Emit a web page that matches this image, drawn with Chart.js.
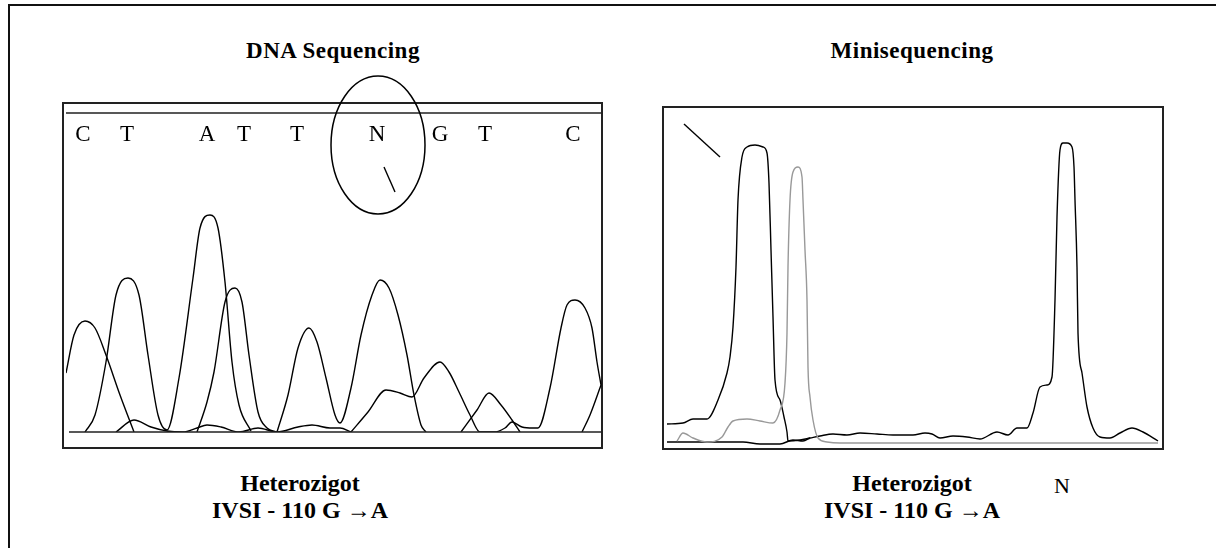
<!DOCTYPE html>
<html>
<head>
<meta charset="utf-8">
<style>
    body { margin: 0; background: #fff; }
    #page { position: relative; width: 1216px; height: 548px; overflow: hidden; }
    .frame { position: absolute; left: 8px; top: 4px; width: 1300px; height: 700px; border: 2px solid #111; }
    .box { position: absolute; border: 2px solid #222; box-sizing: border-box; }
    .txt { position: absolute; font-family: 'Liberation Serif', serif; color: #000; text-align: center; white-space: nowrap; line-height: 1; }
    .b { font-weight: bold; }
    .title { letter-spacing: 0.5px; }
    canvas { position: absolute; left: 0; top: 0; }
</style>
</head>
<body>
<div id='page'>
    <div class='frame'></div>
    <div class='box' style='left:62px; top:102px; width:541px; height:347px'></div>
    <div class='box' style='left:662px; top:106px; width:502px; height:344px'></div>

    <div class='txt b title' style='left:183px; width:300px; top:39px; font-size:23px'>DNA Sequencing</div>
    <div class='txt b title' style='left:762px; width:300px; top:39px; font-size:23px'>Minisequencing</div>
    <div class='txt b' style='left:150px; width:300px; top:471px; font-size:24px'>Heterozigot</div>
    <div class='txt b' style='left:150px; width:300px; top:498px; font-size:24px'>IVSI - 110 G &rarr;A</div>
    <div class='txt b' style='left:762px; width:300px; top:471px; font-size:24px'>Heterozigot</div>
    <div class='txt b' style='left:762px; width:300px; top:498px; font-size:24px'>IVSI - 110 G &rarr;A</div>
    <div class='txt' style='left:1032px; width:60px; top:475px; font-size:22px'>N</div>

    <canvas id='seqChart' width='1216' height='548'></canvas>
    <canvas id='miniChart' width='1216' height='548'></canvas>
</div>
<script src='https://cdn.jsdelivr.net/npm/chart.js'></script>
<script>
    // DNA sequencing: called bases and their scan positions
    const bases = ['C', 'T', 'A', 'T', 'T', 'N', 'G', 'T', 'C'];
    const basePos = [17, 61, 141, 178, 231, 311, 374, 419, 507];

    // chromatogram traces, [scan, signal]
    const traceC1 = [[0, 59], [8, 97], [19, 111], [29, 104], [40, 77], [54, 37], [68, 0]];
    const traceTA = [[19, 0], [29, 17], [40, 70], [50, 137], [62, 154], [73, 137], [82, 77], [92, 17], [101, 2],
        [113, 54], [127, 154], [134, 204], [144, 217], [152, 204], [159, 150], [166, 70], [173, 27], [185, 1]];
    const traceLow = [[50, 0], [68, 12], [85, 5], [101, 1], [117, 0], [131, 4], [141, 7], [155, 5], [173, 0],
        [192, 4], [211, 0], [232, 5], [246, 7], [264, 4], [274, 4], [285, 0]];
    const traceT2 = [[131, 0], [141, 30], [148, 60], [159, 130], [169, 144], [176, 130], [183, 77], [192, 20], [201, 4], [211, 0]];
    const traceTN = [[211, 0], [222, 37], [232, 84], [243, 104], [251, 90], [260, 54], [269, 17], [274, 9],
        [285, 44], [295, 97], [306, 137], [314, 152], [323, 144], [332, 117], [341, 77], [348, 37], [355, 7], [360, 0]];
    const traceG = [[285, 0], [302, 20], [320, 42], [334, 39], [346, 35], [358, 54], [374, 70], [383, 60], [393, 40],
        [404, 17], [414, 0], [428, 0], [439, 4], [446, 10], [456, 5], [467, 4], [472, 4],
        [484, 44], [495, 104], [501, 127], [509, 132], [519, 124], [526, 104], [531, 70], [535, 47]];
    const traceT3 = [[395, 0], [411, 22], [423, 39], [435, 27], [446, 12], [454, 0]];
    const traceEnd = [[516, 0], [524, 17], [535, 47]];
    const nTick = [[318, 265], [329, 240]];

    // minisequencing traces, [scan, signal]
    const miniBlack = [[3, 24], [19, 25], [29, 29], [43, 29], [54, 48], [63, 75], [66, 91], [69, 121], [72, 181],
        [74, 248], [78, 291], [83, 301], [91, 303], [99, 301], [103, 295], [105, 265], [107, 198], [109, 131],
        [111, 68], [116, 48], [120, 31], [123, 16], [124, 7], [136, 8], [146, 10], [156, 12], [169, 14], [183, 13],
        [196, 15], [213, 14], [229, 13], [249, 13], [261, 15], [268, 14], [276, 10], [289, 12], [303, 11], [316, 9],
        [333, 16], [344, 13], [353, 20], [363, 20], [369, 35], [376, 61], [383, 63], [388, 71], [391, 148],
        [393, 231], [396, 298], [399, 305], [403, 305], [408, 301], [410, 281], [411, 248], [413, 181], [414, 115],
        [418, 75], [423, 41], [429, 20], [436, 11], [446, 10], [456, 15], [468, 20], [479, 16], [494, 7]];
    const miniBase = [[3, 6], [46, 6], [79, 6], [96, 4], [116, 4], [129, 8], [139, 7], [146, 10]];
    const miniGrey = [[13, 7], [19, 15], [29, 10], [43, 6], [58, 11], [64, 21], [69, 27], [83, 29], [96, 27],
        [109, 25], [116, 38], [121, 65], [123, 115], [124, 181], [126, 248], [129, 276], [134, 281], [138, 271],
        [139, 248], [141, 198], [143, 148], [144, 81], [146, 51], [149, 28], [154, 10], [163, 6], [176, 5],
        [263, 5], [494, 5]];
    const miniPointer = [[20, 324], [56, 291]];

    function pts(arr) {
        return arr.map(function (p) { return {x: p[0], y: p[1]}; });
    }

    function trace(arr, color) {
        return {
            data: pts(arr),
            borderColor: color || '#000',
            borderWidth: 1.4,
            pointRadius: 0,
            fill: false,
            cubicInterpolationMode: 'monotone',
        };
    }

    const baseRow = 297;
    const circleAt = [312, 287];
    const circleR = [47, 69];

    const seqDecor = {
        id: 'seqDecor',
        afterDatasetsDraw(chart) {
            const ctx = chart.ctx;
            const a = chart.chartArea;
            const x = chart.scales.x;
            const y = chart.scales.y;
            ctx.save();
            ctx.strokeStyle = '#222';
            ctx.lineWidth = 1.5;
            ctx.beginPath();
            ctx.moveTo(a.left, a.top);
            ctx.lineTo(a.right + 1, a.top);
            ctx.moveTo(a.left + 3, a.bottom);
            ctx.lineTo(a.right, a.bottom);
            ctx.stroke();

            ctx.fillStyle = '#000';
            ctx.font = '23px "Liberation Serif"';
            ctx.textAlign = 'center';
            ctx.textBaseline = 'middle';
            bases.forEach(function (b, i) {
                ctx.fillText(b, x.getPixelForValue(basePos[i]), y.getPixelForValue(baseRow));
            });

            const cx = x.getPixelForValue(circleAt[0]);
            const cy = y.getPixelForValue(circleAt[1]);
            const rx = x.getPixelForValue(circleAt[0] + circleR[0]) - cx;
            const ry = cy - y.getPixelForValue(circleAt[1] + circleR[1]);
            ctx.strokeStyle = '#000';
            ctx.lineWidth = 1.5;
            ctx.beginPath();
            ctx.ellipse(cx, cy, rx, ry, 0, 0, Math.PI * 2);
            ctx.stroke();
            ctx.restore();
        }
    };

    const common = {
        responsive: false,
        animation: false,
        devicePixelRatio: 1,
        plugins: {legend: {display: false}, tooltip: {enabled: false}},
        events: [],
    };

    new Chart(document.getElementById('seqChart'), {
        type: 'line',
        data: {
            datasets: [traceC1, traceTA, traceLow, traceT2, traceTN, traceG, traceT3, traceEnd].map(function (t) {
                return trace(t);
            }).concat([Object.assign(trace(nTick), {cubicInterpolationMode: 'default', tension: 0})]),
        },
        options: Object.assign({}, common, {
            layout: {padding: {left: 66, right: 614, top: 113, bottom: 116}},
            scales: {
                x: {type: 'linear', min: 0, max: 536, display: false},
                y: {min: 0, max: 319, display: false},
            },
        }),
        plugins: [seqDecor],
    });

    new Chart(document.getElementById('miniChart'), {
        type: 'line',
        data: {
            datasets: [
                trace(miniGrey, '#999'),
                trace(miniBase),
                trace(miniBlack),
                Object.assign(trace(miniPointer), {cubicInterpolationMode: 'default', tension: 0}),
            ],
        },
        options: Object.assign({}, common, {
            layout: {padding: {left: 664, right: 54, top: 108, bottom: 100}},
            scales: {
                x: {type: 'linear', min: 0, max: 498, display: false},
                y: {min: 0, max: 340, display: false},
            },
        }),
    });
</script>
</body>
</html>
